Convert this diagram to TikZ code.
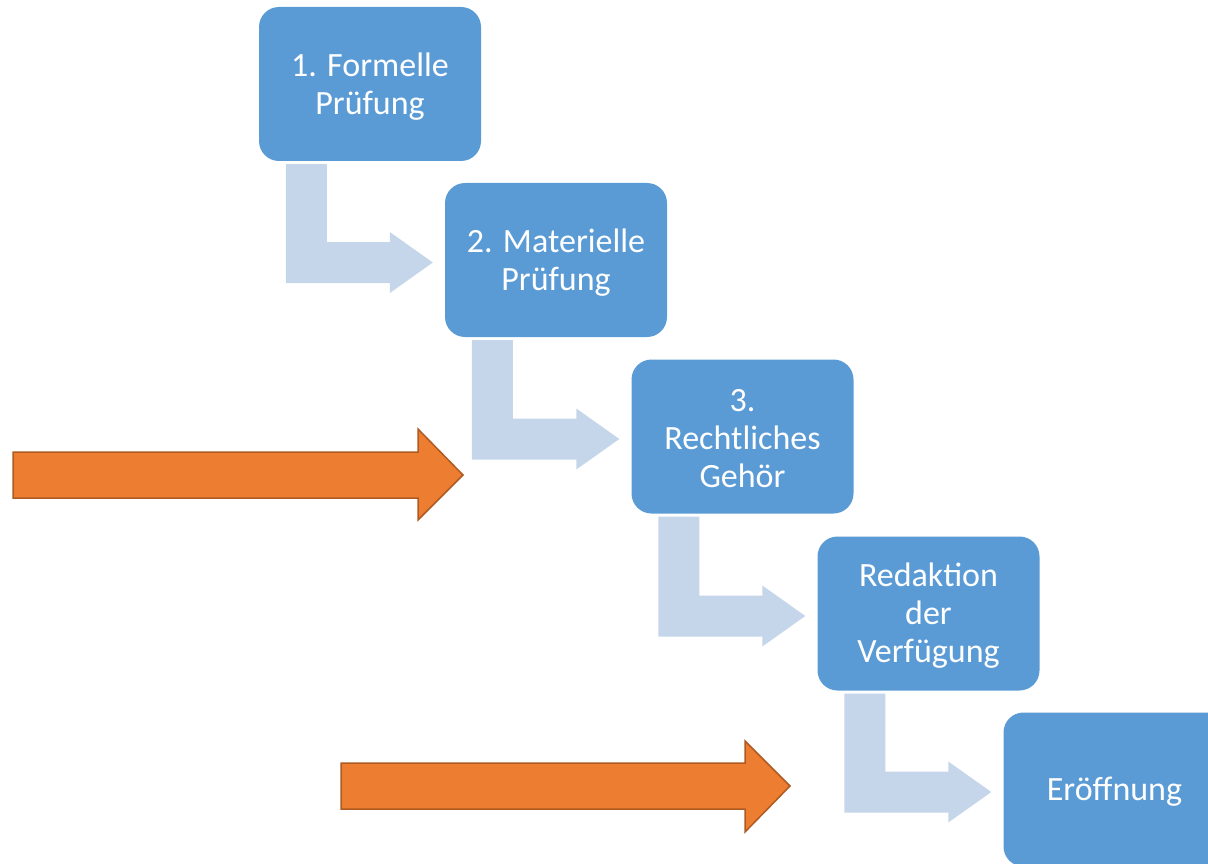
\documentclass[tikz,border=0pt]{standalone}
\usepackage{fontspec}
\setmainfont{Carlito}
\usetikzlibrary{calc}
\definecolor{boxblue}{HTML}{5B9BD5}
\definecolor{paleblue}{HTML}{C5D5EA}
\definecolor{orangefill}{HTML}{ED7D31}
\definecolor{orangeline}{HTML}{AE5A21}
\tikzset{
  stepbox/.style={rectangle, rounded corners=20pt, fill=boxblue,
    minimum width=222pt, minimum height=154pt, inner sep=0pt,
    label={[steptext]center:#1}},
  steptext/.style={text=white, align=center, yshift=-2.5pt, inner sep=0pt,
    font=\fontsize{34pt}{38pt}\selectfont},
  bentarrow/.style={fill=paleblue, draw=none},
  orangearrow/.style={fill=orangefill, draw=orangeline, line width=1.5pt, line join=miter}
}
\newcommand{\bentconn}[2]{%
  \fill[bentarrow] ($(#1.south west)+(27,3)$) -- ($(#1.south west)+(68,3)$)
    |- ($(#2.west)+(-55,-18)$) -- ($(#2.west)+(-55,-28)$) -- ($(#2.west)+(-12,2.5)$)
    -- ($(#2.west)+(-55,33)$) -- ($(#2.west)+(-55,23)$) -| ($(#1.south west)+(27,3)$) -- cycle;}
\begin{document}
\begin{tikzpicture}[x=1pt,y=-1pt]
\useasboundingbox (0,0) rectangle (1208,864);
\clip (0,0) rectangle (1208,864);
\node[stepbox={1. Formelle\\Prüfung}] (b1) at (370,84) {};
\node[stepbox={2. Materielle\\Prüfung}] (b2) at (556,260) {};
\node[stepbox={3.\\Rechtliches\\Gehör}] (b3) at (742.5,436.5) {};
\node[stepbox={Redaktion\\der\\Verfügung}] (b4) at (928.5,613.5) {};
\node[stepbox={Eröffnung}] (b5) at (1114.5,789.5) {};
\bentconn{b1}{b2}
\bentconn{b2}{b3}
\bentconn{b3}{b4}
\bentconn{b4}{b5}
% orange arrows
\coordinate (o1) at (13,475);
\coordinate (o1tip) at (463,475);
\draw[orangearrow] ($(o1)+(0,-23)$) -- ($(o1tip)+(-45,-23)$) -- ($(o1tip)+(-45,-46)$)
  -- (o1tip) -- ($(o1tip)+(-45,45)$) -- ($(o1tip)+(-45,23)$) -- ($(o1)+(0,23)$) -- cycle;
\coordinate (o2) at (341,786);
\coordinate (o2tip) at (790,786);
\draw[orangearrow] ($(o2)+(0,-23)$) -- ($(o2tip)+(-45,-23)$) -- ($(o2tip)+(-45,-45)$)
  -- (o2tip) -- ($(o2tip)+(-45,46)$) -- ($(o2tip)+(-45,23)$) -- ($(o2)+(0,23)$) -- cycle;
\end{tikzpicture}
\end{document}
